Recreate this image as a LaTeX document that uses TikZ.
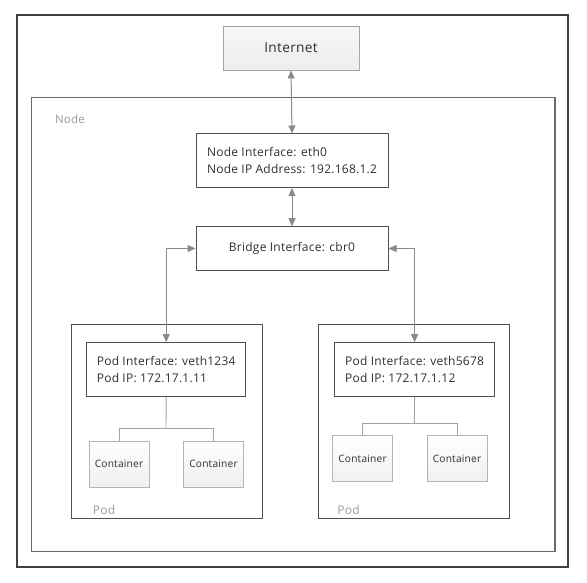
\documentclass[tikz,border=0pt]{standalone}
\usepackage{fontspec}
\setmainfont{Open Sans}[LetterSpace=2]
\usetikzlibrary{arrows.meta}
\definecolor{framec}{HTML}{404040}
\definecolor{nodec}{HTML}{6A6A6A}
\definecolor{boxc}{HTML}{505050}
\definecolor{arrc}{HTML}{8A8A8A}
\definecolor{lblc}{HTML}{9A9A9A}
\definecolor{contc}{HTML}{B4B4B4}
\definecolor{txtc}{HTML}{303030}
\tikzset{
  ifbox/.style={draw=boxc, line width=1pt, fill=white, align=left, text=txtc,
    font=\fontsize{12}{17}\selectfont, inner sep=0pt},
  contbox/.style={draw=contc, line width=0.8pt, top color=white, bottom color=gray!12,
    text=txtc, font=\fontsize{10.2}{12}\selectfont, inner sep=0pt,
    minimum width=60pt, minimum height=46pt},
  frame/.style={draw=boxc, line width=1pt},
  link/.style={draw=arrc, line width=1pt, {Triangle[length=8pt,width=7pt]}-{Triangle[length=8pt,width=7pt]}},
  tree/.style={draw=contc!90!black, line width=0.9pt},
  graylbl/.style={text=lblc, inner sep=0pt}
}
\begin{document}
\begin{tikzpicture}[x=1pt,y=-1pt]
\useasboundingbox (0,0) rectangle (587,583);
% outer frame
\draw[framec, line width=1.1pt] (17,15) rectangle (568,567);
% node frame
\draw[nodec, line width=1.2pt] (31.5,97.5) rectangle (555,551.5);
\node[graylbl, font=\fontsize{11.5}{13}\selectfont] (nodelbl) at (70,119) {Node};
% Internet
\node[draw=gray!70, line width=0.8pt, top color=gray!6, bottom color=gray!14, text=txtc,
  font=\fontsize{13.7}{16}\selectfont, minimum width=136pt, minimum height=44pt, inner sep=0pt]
  (inet) at (291,48) {Internet};
% Node interface
\node[ifbox, minimum width=192pt, minimum height=53.5pt] (ni) at (292,160.75)
  {Node Interface: eth0\\Node IP Address: 192.168.1.2};
% Bridge
\node[ifbox, minimum width=192pt, minimum height=43.5pt] (br) at (292,248.5)
  {Bridge Interface: cbr0};
% Pods
\draw[frame] (71,324) rectangle (262,518);
\draw[frame] (318,324) rectangle (509,518);
\node[graylbl, font=\fontsize{12}{14}\selectfont] (podl) at (104,510) {Pod};
\node[graylbl, font=\fontsize{12}{14}\selectfont] (podr) at (348.5,510) {Pod};
\node[ifbox, minimum width=159pt, minimum height=54pt] (pl) at (166.2,369.7)
  {Pod Interface: veth1234\\Pod IP: 172.17.1.11};
\node[ifbox, minimum width=159.3pt, minimum height=54pt] (pr) at (414.6,369.7)
  {Pod Interface: veth5678\\Pod IP: 172.17.1.12};
% containers
\node[contbox] (c1) at (119,464) {Container};
\node[contbox] (c2) at (213.5,464) {Container};
\node[contbox] (c3) at (362.5,458.5) {Container};
\node[contbox] (c4) at (457,458.5) {Container};
% trees
\coordinate (jl) at (166,428.3);
\coordinate (jr) at (414.3,423.3);
\draw[tree] (pl.south) -- (jl);
\draw[tree] (c1.north) |- (jl) -| (c2.north);
\draw[tree] (pr.south) -- (jr);
\draw[tree] (c3.north) |- (jr) -| (c4.north);
% links
\draw[link] (inet.south) -- (ni.north);
\draw[link] (ni.south) -- (br.north);
\draw[link] (br.west) -| (pl.north);
\draw[link] (br.east) -| (pr.north);
\end{tikzpicture}
\end{document}
